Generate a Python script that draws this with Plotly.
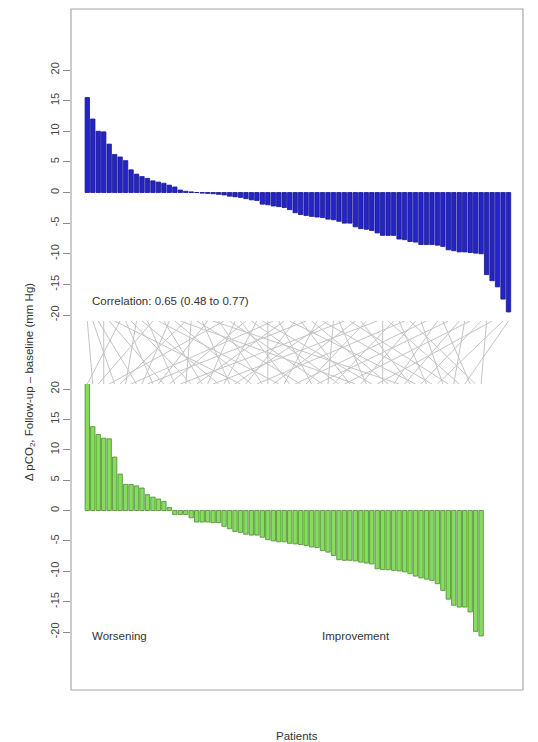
import plotly.graph_objects as go

# --- data -------------------------------------------------------------
top_values = [15.5, 12.0, 10.0, 9.9, 7.9, 6.2, 5.8, 5.2, 3.7, 3.0, 2.6, 2.3,
              1.9, 1.7, 1.5, 1.2, 0.9, 0.4, 0.2, 0.1, 0.0, -0.1, -0.15, -0.2,
              -0.3, -0.4, -0.6, -0.7, -0.8, -1.0, -1.2, -1.3, -1.9, -2.0, -2.2, -2.3,
              -2.45, -2.8, -3.3, -3.6, -3.75, -3.9, -4.0, -4.1, -4.35, -4.45, -4.7,
              -5.0, -5.0, -5.6, -5.9, -6.0, -6.2, -6.6, -7.0, -7.0, -7.0, -7.6, -7.7,
              -8.0, -8.1, -8.5, -8.5, -8.5, -8.6, -8.8, -9.35, -9.5, -9.7, -9.7, -9.8,
              -9.9, -10.0, -13.4, -14.4, -15.4, -17.4, -19.5]

bottom_values = [21.5, 13.8, 12.5, 11.9, 11.8, 8.8, 6.0, 4.3, 4.3, 4.05, 3.7, 2.6,
                 2.2, 1.9, 1.5, 0.5, -0.65, -0.65, -0.65, -1.2, -1.9, -1.9, -1.9,
                 -2.0, -2.0, -2.6, -3.0, -3.45, -3.6, -3.9, -4.05, -4.05, -4.4, -4.8,
                 -5.0, -5.15,
                 -5.15, -5.4, -5.5, -5.6, -5.75, -6.0, -6.1, -6.6, -6.85, -7.4, -8.1,
                 -8.2, -8.2, -8.3, -8.5, -8.65, -8.8, -9.6, -9.7, -9.75, -9.85, -9.95,
                 -10.1, -10.4, -10.8, -11.1, -11.3, -11.5, -12.05, -13.15, -14.6,
                 -15.6, -15.9, -15.9, -16.7, -19.9, -20.65]

# rank in top chart for each patient of the bottom chart
link_top_rank = [6, 0, 12, 3, 25, 1, 18, 9, 34, 2, 15, 40, 7, 22, 4, 29, 11, 47,
                 19, 8, 36, 14, 27, 53, 10, 31, 21, 44, 5, 38, 16, 58, 24, 33, 49,
                 13, 42, 28, 62, 20, 51, 35, 66, 26, 45, 56, 30, 70, 39, 17, 60, 46,
                 32, 74, 54, 41, 64, 23, 68, 50, 37, 72, 57, 43, 76, 61, 48, 69, 55,
                 77, 65, 59, 73]

y_ticks = [-20, -15, -10, -5, 0, 5, 10, 15, 20]
correlation_text = "Correlation: 0.65 (0.48 to 0.77)"

# --- geometry (pixels of the 538x742 page; page body has an 8px margin) ---
OFF = 8
W, H = 538 - OFF, 742 - OFF
L, R, T, B = 71, 523, 9, 690   # page pixels of the plot box
ph = B - T


def py(p):
    return (B - p) / ph


def px(p):
    return (p - L) / (R - L)


FONT = "Liberation Sans, Arial, sans-serif"
TXT = 11.5

fig = go.Figure()

fig.add_trace(go.Bar(
    x=list(range(len(top_values))), y=top_values, width=0.8,
    marker=dict(color="#2424c6", line=dict(color="#15158f", width=0.8)),
    xaxis="x", yaxis="y", showlegend=False, hoverinfo="skip"))

fig.add_trace(go.Bar(
    x=list(range(len(bottom_values))), y=bottom_values, width=0.8,
    marker=dict(color="#86dc5c", line=dict(color="#4d8a34", width=0.8)),
    xaxis="x", yaxis="y2", showlegend=False, hoverinfo="skip"))

lx, ly = [], []
for j, i in enumerate(link_top_rank):
    lx += [i, j, None]
    ly += [1, 0, None]
fig.add_trace(go.Scatter(
    x=lx, y=ly, mode="lines", line=dict(color="#c4c4c4", width=1),
    xaxis="x", yaxis="y3", showlegend=False, hoverinfo="skip"))

# x range: first bar centre at px 87.3, spacing 5.47 px
sp = 5.47
x0 = -(87.3 - L) / sp
x1 = x0 + (R - L) / sp

# top panel: 20 at px 70, -20 at px 315
ts = (315 - 70) / 40.0
top_hi = 20 + (70 - T) / ts
top_bot_px = 322
top_lo = -20 - (top_bot_px - 315) / ts

# bottom panel: 20 at px 389, -20 at px 632
bs = (632 - 389) / 40.0
bot_top_px = 374
bot_hi = 20 + (389 - bot_top_px) / bs
bot_lo = -20 - (B - 632) / bs

yax = dict(tickvals=y_ticks, ticktext=[str(v) for v in y_ticks],
           tickangle=-90, ticks="outside", ticklen=7, tickcolor="#8a8a8a",
           tickfont=dict(family=FONT, size=11, color="#444"),
           showgrid=False, zeroline=False, showline=False, anchor="x")

fig.update_layout(
    width=W, height=H,
    margin=dict(l=L - OFF, r=538 - R, t=T - OFF, b=742 - B, pad=0),
    paper_bgcolor="white", plot_bgcolor="white",
    barmode="overlay",
    xaxis=dict(range=[x0, x1], visible=False, showgrid=False, zeroline=False),
    yaxis=dict(domain=[py(top_bot_px), 1.0], range=[top_lo, top_hi], **yax),
    yaxis2=dict(domain=[0.0, py(bot_top_px)], range=[bot_lo, bot_hi], **yax),
    yaxis3=dict(domain=[py(384), py(321)], range=[0, 1], visible=False,
                showgrid=False, zeroline=False, anchor="x"),
    shapes=[dict(type="rect", xref="paper", yref="paper", x0=0, x1=1, y0=0, y1=1,
                 line=dict(color="#a8a8a8", width=1.2), fillcolor="rgba(0,0,0,0)")],
    annotations=[
        dict(text=correlation_text, xref="paper", yref="paper",
             x=px(90), y=py(301), xanchor="left", yanchor="middle", showarrow=False,
             font=dict(family=FONT, size=TXT, color="#333")),
        dict(text="Worsening", xref="paper", yref="paper",
             x=px(90), y=py(636), xanchor="left", yanchor="middle", showarrow=False,
             font=dict(family=FONT, size=TXT, color="#333")),
        dict(text="Improvement", xref="paper", yref="paper",
             x=px(320), y=py(636), xanchor="left", yanchor="middle", showarrow=False,
             font=dict(family=FONT, size=TXT, color="#333")),
        dict(text="Patients", xref="paper", yref="paper",
             x=px(297), y=py(736), xanchor="center", yanchor="middle", showarrow=False,
             font=dict(family=FONT, size=TXT, color="#333")),
        dict(text="\u0394 pCO<sub>2</sub>, Follow-up \u2013 baseline (mm Hg)",
             xref="paper", yref="paper", x=px(30), y=py(382),
             xanchor="center", yanchor="middle", textangle=-90, showarrow=False,
             font=dict(family=FONT, size=TXT, color="#333")),
    ],
)

fig.write_html("out.html")
